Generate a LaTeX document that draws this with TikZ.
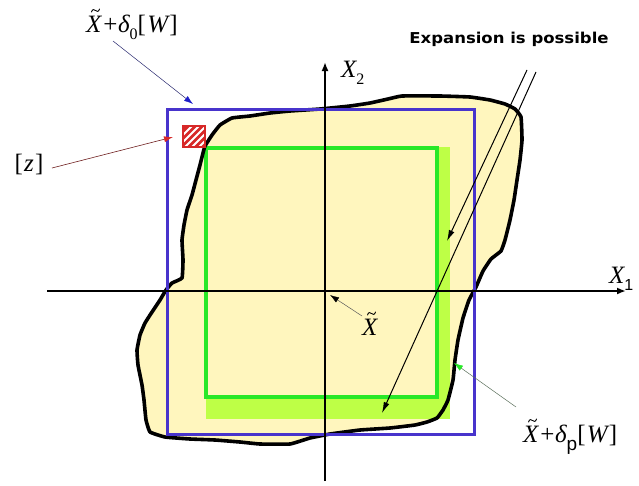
\documentclass[tikz,border=0pt]{standalone}
\usepackage{fontspec}
\newfontfamily\expfont{DejaVu Sans}
\newfontfamily\tms{Liberation Serif}
\newfontfamily\ars{Liberation Sans}
\usetikzlibrary{arrows.meta}
\definecolor{blobfill}{RGB}{255,246,190}
\definecolor{boxblue}{RGB}{72,52,204}
\definecolor{boxgreen}{RGB}{40,232,40}
\definecolor{bandgreen}{RGB}{190,255,70}
\definecolor{hatchred}{RGB}{215,40,40}
\definecolor{navyline}{RGB}{40,40,110}
\definecolor{darkredline}{RGB}{110,30,30}
\definecolor{greyline}{RGB}{90,110,90}
\definecolor{headblue}{RGB}{30,30,200}
\newcommand\subsc[1]{\raisebox{-0.28em}{\fontsize{16}{16}\selectfont #1}}
\tikzset{
  lbl/.style={inner sep=0pt, font=\tms\fontsize{25}{28}\selectfont},
  axis/.style={line width=2.4pt, -{Latex[length=9pt,width=7pt]}},
  longarrow/.style={line width=1pt, -{Latex[length=11pt,width=6pt]}},
  tildemark/.style={line width=0.9pt, line cap=round},
}
\newcommand\drawtilde[1]{\draw[tildemark, shift={(#1)}] (-4,1) .. controls (-3,-2) and (-1.5,-2) .. (0,-0.5) .. controls (1.5,1) and (3,1) .. (4,-2);}
\begin{document}
\begin{tikzpicture}[x=1pt,y=-1pt]
\useasboundingbox (0,0) rectangle (639,485);
\def\blobpts{(205,146)(212,135)(220,125)(232,118)(250,116)(270,113)(290,111)(320,109)(350,106)(370,103)(388,99)(402,96)(440,96)(470,97)(490,100)(505,104)(515,109)(521,117)(522,140)(520,160)(517,180)(514,200)(510,220)(505,240)(501,251)(491,259)(483,271)(476,287)(469,300)(463,318)(458,340)(455,360)(453,380)(448,400)(443,410)(437,418)(427,422)(415,425)(390,428)(360,430)(330,434)(310,438)(290,444)(260,444)(240,442)(215,440)(190,439)(165,437)(150,432)(146,420)(144,400)(142,385)(138,365)(137,350)(140,335)(145,323)(152,312)(160,300)(166,290)(172,283)(182,278)(183,260)(182,240)(184,225)(187,210)(192,195)(196,180)(200,165)(203,153)}
% blob fill
\fill[blobfill] plot[smooth cycle, tension=0.2] coordinates {\blobpts};
% light green band
\fill[bandgreen] (437,147) rectangle (450,419);
\fill[bandgreen] (206,397) rectangle (450,419);
% green box
\draw[boxgreen, line width=3.5pt] (206,148) rectangle (437,397);
% blob outline
\draw[line width=3.6pt, line join=round] plot[smooth cycle, tension=0.2] coordinates {\blobpts};
% blue box
\draw[boxblue, line width=3pt] (167,109) rectangle (474,434);
% hatched square
\begin{scope}
\clip (183,126) rectangle (205,147);
\fill[hatchred] (183,126) rectangle (205,147);
\foreach \d in {-12,-5,2,9,16,23}
  \draw[white, line width=2pt] (183+\d,147) -- (183+\d+21,126);
\end{scope}
\draw[hatchred, line width=1.6pt] (183,126) rectangle (205,147);
% axes
\coordinate (xs) at (47,291);
\coordinate (xe) at (626,291);
\coordinate (ys) at (325,481);
\coordinate (ye) at (325,62);
\draw[axis] (xs) -- (xe);
\draw[axis] (ys) -- (ye);
\node[lbl, anchor=base west] (x1) at (609,283) {\itshape X\subsc{\ars\upshape 1}};
\node[lbl, anchor=base west] (x2) at (341,77) {\itshape X\subsc{\upshape 2}};
% labels
\node[lbl, anchor=base west] (d0) at (86,32) {{\itshape X}\kern0.08em+\kern0.02em{\itshape δ}\subsc{0}[\kern0.05em{\itshape W}\kern0.05em]};
\node[lbl, anchor=base] (z) at (29,171) {[\kern0.05em{\itshape z}\kern0.05em]};
\node[lbl, anchor=base west] (xt) at (362,335) {\itshape X};
\node[lbl, anchor=base west] (dp) at (523,442) {{\itshape X}\kern0.08em+\kern0.02em{\itshape δ}\raisebox{-0.35em}{\ars\fontsize{19}{19}\selectfont p}[\kern0.05em{\itshape W}\kern0.05em]};
\path (d0.base west) ++(9.5,-21) coordinate (d0t);
\path (xt.base west) ++(9.5,-21) coordinate (xtt);
\path (dp.base west) ++(9.5,-21) coordinate (dpt);
\drawtilde{d0t}
\drawtilde{xtt}
\drawtilde{dpt}
\node[inner sep=0pt, font=\expfont\bfseries\fontsize{15}{17}\selectfont, anchor=base] (exp) at (509,43) {\scalebox{1.1}[1]{Expansion is possible}};
% connectors
\coordinate (d0tip) at (193,104);
\coordinate (d0tail) at (113,41);
\draw[line width=0.5pt, navyline, -{Latex[length=9pt,width=6pt,color=headblue]}] (d0tail) -- (d0tip);
\coordinate (ztip) at (173,137);
\coordinate (ztail) at (52,168);
\draw[line width=0.6pt, darkredline, -{Latex[length=9pt,width=6pt,color=hatchred]}] (ztail) -- (ztip);
\coordinate (xttip) at (330,295);
\coordinate (xttail) at (362,316);
\draw[line width=0.5pt, black!65, -{Latex[length=9pt,width=6pt,color=black]}] (xttail) -- (xttip);
\coordinate (dptip) at (454,363);
\coordinate (dptail) at (516,407);
\draw[line width=0.5pt, greyline, -{Latex[length=9pt,width=6pt,color=boxgreen]}] (dptail) -- (dptip);
\coordinate (a1s) at (527,70);
\coordinate (a1e) at (447,241);
\coordinate (a2s) at (536,72);
\coordinate (a2e) at (382,413);
\draw[longarrow] (a1s) -- (a1e);
\draw[longarrow] (a2s) -- (a2e);
\end{tikzpicture}
\end{document}
